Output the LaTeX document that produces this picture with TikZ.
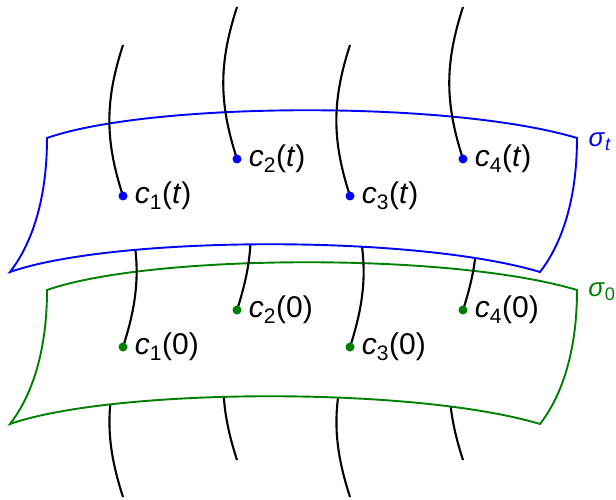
\documentclass[tikz,border=0pt]{standalone}
\usepackage{fontspec}
\setmainfont{Liberation Sans}
\usetikzlibrary{positioning}

\begin{document}
\begin{tikzpicture}[x=1pt, y=1pt,
    strand/.style={black, line width=2.1pt},
    sheet/.style={fill=white, line width=1.9pt},
    dotnode/.style={circle, fill, inner sep=0pt, minimum size=9pt},
    lab/.style={inner sep=0pt, font=\fontsize{30}{32}\selectfont},
    sig/.style={inner sep=0pt, font=\fontsize{26}{28}\selectfont}]
    \useasboundingbox (0,0) rectangle (616,499);
    \coordinate (a1) at (123,454);
    \coordinate (a2) at (237,492);
    \coordinate (a3) at (350,454);
    \coordinate (a4) at (463,492);
    \coordinate (p1t) at (123,303);
    \coordinate (p2t) at (237,340);
    \coordinate (p3t) at (350,303);
    \coordinate (p4t) at (463,340);
    \coordinate (p10) at (123,152);
    \coordinate (p20) at (237,189);
    \coordinate (p30) at (350,152);
    \coordinate (p40) at (463,189);
    \coordinate (b1) at (123,2);
    \coordinate (b2) at (237,39);
    \coordinate (b3) at (350,2);
    \coordinate (b4) at (463,39);
    \draw[strand] (p10) to[out=-108, in=108] (b1);
    \draw[strand] (p20) to[out=-108, in=108] (b2);
    \draw[strand] (p30) to[out=-108, in=108] (b3);
    \draw[strand] (p40) to[out=-108, in=108] (b4);
    \filldraw[sheet, draw=green!50!black] (47,209) .. controls (150,245) and (450,247) .. (577,209)
        .. controls (577,133) and (554,93) .. (540,75)
        .. controls (413,113) and (113,111) .. (10,75)
        .. controls (24,93) and (47,133) .. cycle;
    \draw[strand] (p1t) to[out=-72, in=72] (p10);
    \draw[strand] (p2t) to[out=-72, in=72] (p20);
    \draw[strand] (p3t) to[out=-72, in=72] (p30);
    \draw[strand] (p4t) to[out=-72, in=72] (p40);
    \filldraw[sheet, draw=blue] (47,361) .. controls (150,397) and (450,399) .. (577,361)
        .. controls (577,285) and (554,245) .. (540,227)
        .. controls (413,265) and (113,263) .. (10,227)
        .. controls (24,245) and (47,285) .. cycle;
    \draw[strand] (a1) to[out=-108, in=108] (p1t);
    \draw[strand] (a2) to[out=-108, in=108] (p2t);
    \draw[strand] (a3) to[out=-108, in=108] (p3t);
    \draw[strand] (a4) to[out=-108, in=108] (p4t);
    \node[dotnode, blue] (c1t) at (p1t) {};
    \node[dotnode, blue] (c2t) at (p2t) {};
    \node[dotnode, blue] (c3t) at (p3t) {};
    \node[dotnode, blue] (c4t) at (p4t) {};
    \node[dotnode, green!50!black] (c10) at (p10) {};
    \node[dotnode, green!50!black] (c20) at (p20) {};
    \node[dotnode, green!50!black] (c30) at (p30) {};
    \node[dotnode, green!50!black] (c40) at (p40) {};
    \node[lab, right=7pt of c1t] (l1t) {\textit{c}\textsubscript{1}(\textit{t})};
    \node[lab, right=7pt of c2t] (l2t) {\textit{c}\textsubscript{2}(\textit{t})};
    \node[lab, right=7pt of c3t] (l3t) {\textit{c}\textsubscript{3}(\textit{t})};
    \node[lab, right=7pt of c4t] (l4t) {\textit{c}\textsubscript{4}(\textit{t})};
    \node[lab, right=7pt of c10] (l10) {\textit{c}\textsubscript{1}(0)};
    \node[lab, right=7pt of c20] (l20) {\textit{c}\textsubscript{2}(0)};
    \node[lab, right=7pt of c30] (l30) {\textit{c}\textsubscript{3}(0)};
    \node[lab, right=7pt of c40] (l40) {\textit{c}\textsubscript{4}(0)};
    \node[sig, text=blue] (st) at (600,357) {\textit{σ}\textsubscript{\textit{t}}};
    \node[sig, text=green!50!black] (s0) at (602,207) {\textit{σ}\textsubscript{0}};
\end{tikzpicture}
\end{document}
